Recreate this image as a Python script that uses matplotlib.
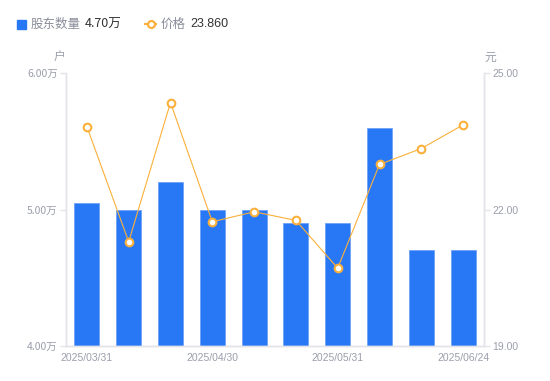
import matplotlib
matplotlib.use("Agg")
import matplotlib.pyplot as plt
from matplotlib.lines import Line2D

plt.rcParams['font.family'] = ['Noto Sans CJK SC', 'DejaVu Sans']

# data
dates = ["2025/03/31", "2025/04/10", "2025/04/20", "2025/04/30", "2025/05/10",
         "2025/05/20", "2025/05/31", "2025/06/10", "2025/06/20", "2025/06/24"]
holders = [5.05, 5.00, 5.20, 5.00, 5.00, 4.90, 4.90, 5.60, 4.70, 4.70]  # 万户
price = [23.82, 21.29, 24.35, 21.73, 21.95, 21.76, 20.71, 22.99, 23.34, 23.86]
label_idx = [0, 3, 6, 9]
left_ticks = [4.0, 5.0, 6.0]
right_ticks = [19.0, 22.0, 25.0]

BLUE = "#2878f5"
ORANGE = "#fbb03b"
GRAY = "#9b9eab"
AXIS = "#e3e4e8"

W, H = 550, 381
fig = plt.figure(figsize=(W / 100, H / 100), dpi=100)
ax = fig.add_axes([66 / W, 1 - 346 / H, (484 - 66) / W, (346 - 73) / H])
ax2 = ax.twinx()

x = list(range(len(dates)))
ax.bar(x, holders, width=0.6, color=BLUE, edgecolor="#6fa3f8", linewidth=0.6, zorder=2)
ax.set_xlim(-0.5, len(dates) - 0.5)
ax.set_ylim(4.0, 6.0)
ax.set_yticks(left_ticks)
ax.set_yticklabels([f"{v:.2f}万" for v in left_ticks])
ax.set_xticks(label_idx)
ax.set_xticklabels([dates[i] for i in label_idx])

ax2.plot(x, price, color=ORANGE, linewidth=0.8, marker="o", markersize=5.5,
         markerfacecolor="white", markeredgecolor=ORANGE, markeredgewidth=1.5, zorder=3)
ax2.set_ylim(19.0, 25.0)
ax2.set_yticks(right_ticks)
ax2.set_yticklabels([f"{v:.2f}" for v in right_ticks])

for a in (ax, ax2):
    a.spines["top"].set_visible(False)
    for side in ("left", "right", "bottom"):
        a.spines[side].set_color(AXIS)
        a.spines[side].set_linewidth(1)
    a.tick_params(colors=AXIS, labelcolor=GRAY, labelsize=7.5, length=4, width=1)
ax.tick_params(axis="x", length=0, pad=5)
ax.tick_params(axis="y", pad=2)
ax2.tick_params(axis="y", pad=2)
for t in ax.get_xticklabels():
    t.set_fontfamily(['Liberation Sans', 'DejaVu Sans'])
for t in ax2.get_yticklabels():
    t.set_fontfamily(['Liberation Sans', 'DejaVu Sans'])

# unit labels
fig.text(59 / W, 1 - 57 / H, "户", color=GRAY, fontsize=8.5, ha="center", va="center")
fig.text(490 / W, 1 - 57 / H, "元", color=GRAY, fontsize=8.5, ha="center", va="center")

# legend row
ly = 1 - 24 / H
fig.patches.append(plt.Rectangle((17 / W, 1 - 28.5 / H), 8.5 / W, 8.5 / H, color=BLUE,
                                 transform=fig.transFigure, figure=fig))
fig.text(31 / W, ly, "股东数量", color="#8a8d99", fontsize=9, va="center")
fig.text(85 / W, ly, "4.70万", color="#333333", fontsize=9, va="center")
fig.lines.append(Line2D([145 / W, 156 / W], [ly, ly], color=ORANGE, linewidth=1.5,
                        transform=fig.transFigure))
fig.lines.append(Line2D([150.5 / W], [ly], color=ORANGE, marker="o", markersize=5,
                        markerfacecolor="white", markeredgewidth=1.6, transform=fig.transFigure))
fig.text(161 / W, ly, "价格", color="#8a8d99", fontsize=9, va="center")
fig.text(190 / W, ly, "23.860", color="#333333", fontsize=9, va="center",
         fontfamily=['Liberation Sans', 'DejaVu Sans'])

fig.savefig("out.png", dpi=100)
